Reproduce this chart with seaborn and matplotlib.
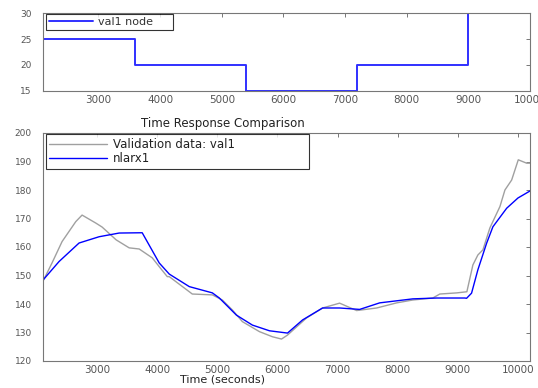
import matplotlib
matplotlib.use("Agg")
import matplotlib.pyplot as plt
import seaborn as sns
import pandas as pd

sns.set_style("white")
plt.rcParams['font.family'] = ['DejaVu Sans']

# Top panel: input step signal
node_t = [2100, 3600, 5400, 7200, 9000, 10000]
node_v = [25, 20, 15, 20, 30, 30]

# Bottom panel: validation data
val_t = [2100, 2250, 2417, 2645, 2750, 2978, 3083, 3317, 3533, 3700, 3917, 4033, 4167,
         4200, 4533, 4583, 4917, 5083, 5250, 5417, 5700, 5917, 6067, 6167, 6483, 6750,
         7033, 7317, 7650, 7983, 8250, 8583, 8700, 8983, 9150, 9250, 9333, 9417, 9533,
         9700, 9783, 9895, 10005, 10145, 10228]
val_v = [148, 154.4, 161.9, 168.9, 171.2, 168.4, 167, 162.5, 159.7, 159.3, 156.2, 153.1, 149.6,
         149.6, 144.3, 143.5, 143.2, 141.4, 137.9, 133.8, 130.3, 128.5, 127.7, 129.1, 135.1, 138.6,
         140.3, 137.7, 138.6, 140.4, 141.4, 142.1, 143.5, 143.9, 144.3, 153.7, 157.2, 159, 166.7,
         174.2, 180, 183.5, 190.6, 189.4, 189.4]

# Bottom panel: model output
mdl_t = [2100, 2367, 2700, 3033, 3367, 3750, 4033, 4200, 4533, 4917, 5033, 5317, 5583,
         5867, 6167, 6417, 6750, 7033, 7367, 7700, 8250, 8650, 9117, 9145, 9228, 9333,
         9478, 9583, 9812, 10000, 10228]
mdl_v = [148.4, 154.9, 161.4, 163.6, 164.9, 165, 154.4, 150.5, 146.1, 143.9, 142.1, 136.1, 132.6,
         130.6, 129.8, 134.4, 138.6, 138.6, 138.1, 140.4, 141.8, 142.1, 142.1, 142.0, 143.8, 152,
         161.3, 167.1, 173.6, 177.2, 180]

xt_top = [3000, 4000, 5000, 6000, 7000, 8000, 9000, 10000]
yt_top = [15, 20, 25, 30]
xt_bot = [3000, 4000, 5000, 6000, 7000, 8000, 9000, 10000]
yt_bot = [120, 130, 140, 150, 160, 170, 180, 190, 200]

W, H = 538, 388
fig = plt.figure(figsize=(W / 100, H / 100), dpi=100)
ax1 = fig.add_axes([43 / W, 1 - 91 / H, 487 / W, 78 / H])
ax2 = fig.add_axes([43 / W, 1 - 361 / H, 487 / W, 228 / H])

tc = '#555555'
for ax in (ax1, ax2):
    for s in ax.spines.values():
        s.set_color('#777777')
        s.set_linewidth(0.8)
    ax.tick_params(direction='in', length=3, width=0.7, color='#777777',
                   labelcolor=tc, top=True, right=True)
    ax.tick_params(axis='x', labelsize=7.5, pad=3)
    ax.tick_params(axis='y', labelsize=6.5, pad=8)

sns.lineplot(x=node_t, y=node_v, ax=ax1, color='#3030ff', lw=1.4,
             drawstyle='steps-post', label='val1 node')
ax1.set_xlim(2100, 10000)
ax1.set_ylim(15, 30)
ax1.set_xticks(xt_top)
ax1.set_yticks(yt_top)
ax1.set_xlabel('')
ax1.set_ylabel('')
leg1 = ax1.legend(loc='upper left', fontsize=8, frameon=True, fancybox=False,
                  edgecolor='black', borderpad=0.25, handlelength=4.0,
                  handletextpad=0.4, borderaxespad=0,
                  bbox_to_anchor=(0.006, 0.80, 0.261, 0.187), mode='expand')
leg1.get_frame().set_linewidth(0.8)
for t in leg1.get_texts():
    t.set_color('#333333')

dval = pd.DataFrame({'t': val_t, 'v': val_v})
dmdl = pd.DataFrame({'t': mdl_t, 'v': mdl_v})
sns.lineplot(data=dval, x='t', y='v', ax=ax2, color='#a0a0a0', lw=1.0,
             label='Validation data: val1')
sns.lineplot(data=dmdl, x='t', y='v', ax=ax2, color='#0000ff', lw=1.0,
             label='nlarx1')
ax2.set_xlim(2100, 10200)
ax2.set_ylim(120, 200)
ax2.set_xticks(xt_bot)
ax2.set_yticks(yt_bot)
ax2.set_ylabel('')
ax2.set_xlabel('Time (seconds)', fontsize=8, color='#222222')
ax2.xaxis.set_label_coords((223 - 43) / 487, -0.058)
ax2.set_title('Time Response Comparison', fontsize=8.5, color='#222222',
              x=(223 - 43) / 487, pad=4)
leg2 = ax2.legend(loc='upper left', fontsize=8.5, frameon=True, fancybox=False,
                  edgecolor='black', borderpad=0.3, handlelength=4.9,
                  handletextpad=0.5, borderaxespad=0, labelspacing=0.15,
                  bbox_to_anchor=(0.006, 0.85, 0.54, 0.145), mode='expand')
leg2.get_frame().set_linewidth(0.8)
for t in leg2.get_texts():
    t.set_color('#222222')

fig.savefig('out.png', dpi=100)
